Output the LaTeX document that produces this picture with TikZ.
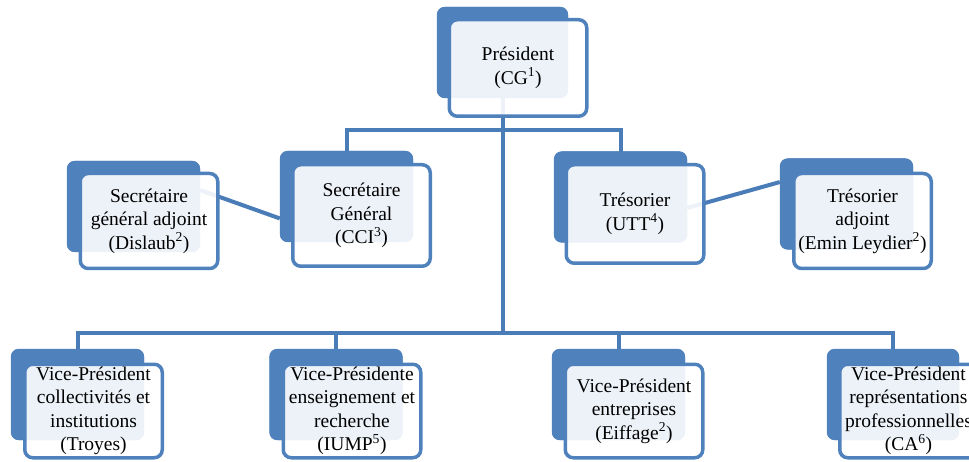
\documentclass[tikz,border=0pt]{standalone}
\usepackage{fontspec}
\setmainfont{Liberation Serif}
\usetikzlibrary{calc}
\definecolor{bblue}{HTML}{4F81BD}
\definecolor{lblue}{HTML}{4A7CB8}
\tikzset{
  backbox/.style={rectangle, rounded corners=8pt, fill=bblue, draw=none, inner sep=0pt,
    minimum width=133pt, minimum height=91pt},
  frontbox/.style={rectangle, rounded corners=8pt, draw=bblue, line width=3.5pt,
    fill=white, fill opacity=0.9, text opacity=1, draw opacity=1, inner sep=0pt,
    align=center, minimum width=137.5pt, minimum height=95pt,
    font=\fontsize{19.5pt}{23.5pt}\selectfont},
  conn/.style={draw=lblue, line width=4pt},
}
\begin{document}
\begin{tikzpicture}[x=1pt,y=-1pt]
\useasboundingbox (0,0) rectangle (969,462);
\clip (0,0) rectangle (969,462);
% back boxes
\node[backbox, minimum width=131pt] (pb) at (502.5,52.5) {};
\node[backbox] (sgb) at (346.5,196.5) {};
\node[backbox] (sgab) at (133.5,206.5) {};
\node[backbox] (tb) at (620.5,197) {};
\node[backbox] (tab) at (846.5,204) {};
\node[backbox] (v1b) at (77.5,394.5) {};
\node[backbox] (v2b) at (336,394.5) {};
\node[backbox] (v3b) at (618.5,394.5) {};
\node[backbox, minimum width=132pt] (v4b) at (893,394.5) {};
% junctions
\coordinate (j1) at (502.5,130);
\coordinate (j2) at (502.5,333);
% connectors (behind front boxes)
\draw[conn] (pb.center) -- (j2);
\draw[conn] (sgb.center) |- (j1) -| (tb.center);
\draw[conn] (v1b.center) |- (j2) -| (v4b.center);
\draw[conn] (v2b.center) -- (v2b.center |- j2);
\draw[conn] (v3b.center) -- (v3b.center |- j2);
\draw[conn] ($(sgab.north east)!0.32!(sgab.south east)$) -- ($(sgb.north west)!0.74!(sgb.south west)$);
\draw[conn] ($(tb.north east)!0.62!(tb.south east)$) -- ($(tab.north west)!0.26!(tab.south west)$);
% redraw back boxes on top of connectors
\foreach \n in {pb,sgb,sgab,tb,tab,v1b,v2b,v3b,v4b}{
  \fill[bblue, rounded corners=8pt] (\n.north west) rectangle (\n.south east);
}
% front boxes
\node[frontbox, minimum height=96.5pt] (p) at (518,68) {Président\\(CG\textsuperscript{1})};
\node[frontbox, minimum height=101.5pt] (sg) at (361.5,215.5) {Secrétaire\\Général\\(CCI\textsuperscript{3})};
\node[frontbox] (sga) at (149,221) {Secrétaire\\général adjoint\\(Dislaub\textsuperscript{2})};
\node[frontbox, minimum height=98.5pt] (t) at (635,214) {Trésorier\\(UTT\textsuperscript{4})};
\node[frontbox] (ta) at (862.5,221) {Trésorier\\adjoint\\(Emin Leydier\textsuperscript{2})};
\node[frontbox, minimum height=93.5pt] (v1) at (93.5,411) {Vice-Président\\collectivités et\\institutions\\(Troyes)};
\node[frontbox, minimum height=93.5pt] (v2) at (352,411) {Vice-Présidente\\enseignement et\\recherche\\(IUMP\textsuperscript{5})};
\node[frontbox, minimum height=93.5pt] (v3) at (634,411) {Vice-Président\\entreprises\\(Eiffage\textsuperscript{2})};
\node[frontbox, minimum height=93.5pt] (v4) at (908.5,411) {Vice-Président\\représentations\\professionnelles\\(CA\textsuperscript{6})};
\end{tikzpicture}
\end{document}
